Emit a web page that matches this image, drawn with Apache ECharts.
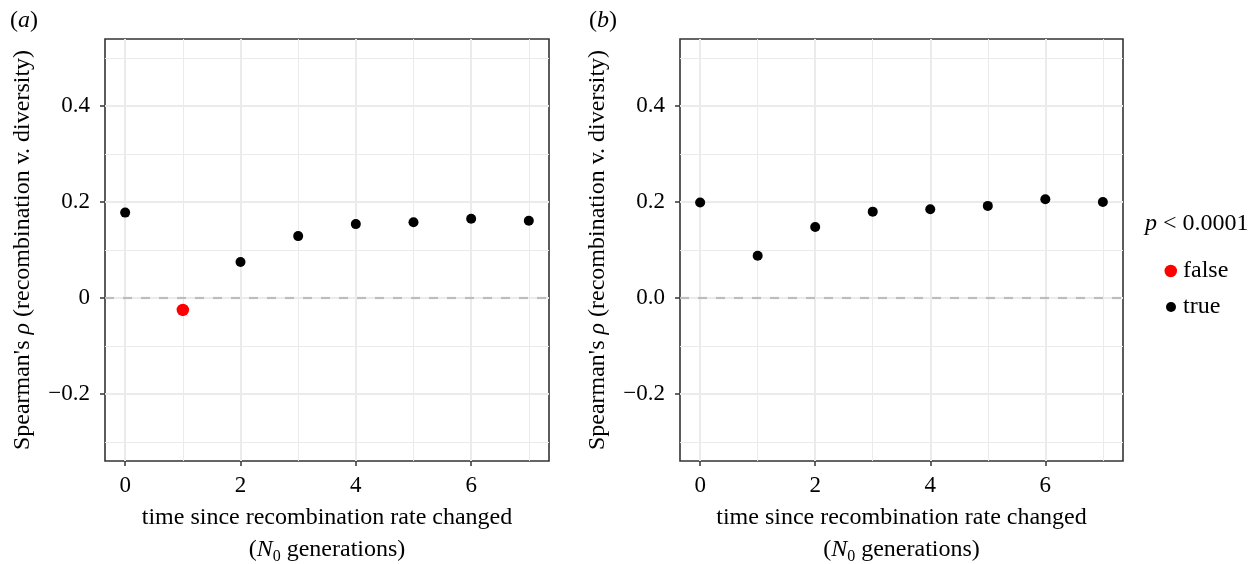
<!DOCTYPE html>
<html>
<head>
<meta charset="utf-8">
<script src="https://cdn.jsdelivr.net/npm/echarts@6/dist/echarts.min.js"></script>
<style>
html,body{margin:0;padding:0;background:#fff;}
#chart{width:1257px;height:564px;}
</style>
</head>
<body>
<div id="chart"></div>
<script>
// ---- data ----
const timeA = [0, 1, 2, 3, 4, 5, 6, 7];
const rhoA  = [0.178, -0.025, 0.075, 0.129, 0.154, 0.158, 0.165, 0.161];
const sigA  = [true, false, true, true, true, true, true, true];

const timeB = [0, 1, 2, 3, 4, 5, 6, 7];
const rhoB  = [0.199, 0.088, 0.148, 0.180, 0.185, 0.192, 0.206, 0.200];
const sigB  = [true, true, true, true, true, true, true, true];

const yTicks = [-0.2, 0, 0.2, 0.4];
const yMinor = [-0.3, -0.1, 0.1, 0.3, 0.5];
const xTicks = [0, 2, 4, 6];
const xMinor = [1, 3, 5, 7];
const yRange = [-0.34, 0.54];
const xRange = [-0.35, 7.35];
const panelLabels = ['a', 'b'];
const legendTitle = 'p';
const legendTitleRest = ' < 0.0001';

// ---- styles ----
const FONT = '"Liberation Serif", "DejaVu Serif", serif';
const INK = '#333333';
const GRID_C = '#ebebeb';
const TS = 24;   // title font size
const LS = 23;   // tick label font size
const rich = {
  i: {fontStyle: 'italic', fontFamily: FONT, fontSize: TS, color: '#000'},
  sub: {fontFamily: FONT, fontSize: 16, color: '#000', padding: [14, 0, 0, 0]}
};

function pts(t, r, s, flag) {
  const out = [];
  for (let k = 0; k < t.length; k++) if (s[k] === flag) out.push([t[k], r[k]]);
  return out;
}

function gridLines(idx) {
  const d = [];
  yMinor.forEach(v => d.push({yAxis: v, lineStyle: {color: GRID_C, width: 1, type: 'solid'}}));
  xMinor.forEach(v => d.push({xAxis: v, lineStyle: {color: GRID_C, width: 1, type: 'solid'}}));
  yTicks.forEach(v => d.push({yAxis: v, lineStyle: {color: GRID_C, width: 2, type: 'solid'}}));
  xTicks.forEach(v => d.push({xAxis: v, lineStyle: {color: GRID_C, width: 2, type: 'solid'}}));
  return {
    type: 'scatter', name: 'grid' + idx, xAxisIndex: idx, yAxisIndex: idx, data: [], z: 1,
    silent: true,
    markLine: {silent: true, symbol: 'none', label: {show: false}, animation: false, data: d}
  };
}
function zeroLine(idx) {
  return {
    type: 'scatter', name: 'zero' + idx, xAxisIndex: idx, yAxisIndex: idx, data: [], z: 2,
    silent: true,
    markLine: {silent: true, symbol: 'none', label: {show: false}, animation: false,
      data: [{yAxis: 0, lineStyle: {color: '#bdbdbd', width: 2.2, type: [9, 9]}}]}
  };
}

function fmtA(v) { if (Math.abs(v) < 1e-9) return '0'; return (v < 0 ? '\u2212' : '') + Math.abs(v).toFixed(1); }
function fmtB(v) { if (Math.abs(v) < 1e-9) return '0.0'; return (v < 0 ? '\u2212' : '') + Math.abs(v).toFixed(1); }

const grids = [
  {left: 105, top: 39, width: 444, height: 422},
  {left: 680, top: 39, width: 443, height: 422}
];

function xAxisDef(idx) {
  return {
    type: 'value', gridIndex: idx, min: xRange[0], max: xRange[1],
    axisLine: {show: false, onZero: false},
    splitLine: {show: false},
    axisTick: {show: true, customValues: xTicks, length: 5, lineStyle: {color: INK, width: 1.5}},
    axisLabel: {customValues: xTicks, margin: 13, fontFamily: FONT, fontSize: LS, color: '#000',
      formatter: v => String(v)},
    name: 'time since recombination rate changed\n({i|N}{sub|0} generations)',
    nameLocation: 'middle', nameGap: 35,
    nameTextStyle: {fontFamily: FONT, fontSize: TS, color: '#000', lineHeight: 32, rich: rich}
  };
}
function yAxisDef(idx, fmt, gap) {
  return {
    type: 'value', gridIndex: idx, min: yRange[0], max: yRange[1],
    axisLine: {show: false, onZero: false},
    splitLine: {show: false},
    axisTick: {show: true, customValues: yTicks, length: 5, lineStyle: {color: INK, width: 1.5}},
    axisLabel: {customValues: yTicks, margin: 15, fontFamily: FONT, fontSize: LS, color: '#000', formatter: fmt},
    name: "Spearman's {i|\u03c1} (recombination v. diversity)",
    nameLocation: 'middle', nameRotate: 90, nameGap: gap,
    nameTextStyle: {fontFamily: FONT, fontSize: TS, color: '#000', rich: rich}
  };
}

const legendText = {fontFamily: FONT, fontSize: TS, color: '#000'};

const option = {
  backgroundColor: '#ffffff',
  animation: false,
  grid: grids.map(g => Object.assign({show: true, borderColor: INK, borderWidth: 1.6, backgroundColor: '#fff',
    containLabel: false, outerBoundsMode: 'none'}, g)),
  xAxis: [xAxisDef(0), xAxisDef(1)],
  yAxis: [yAxisDef(0, fmtA, 70), yAxisDef(1, fmtB, 70)],
  legend: [
    {orient: 'vertical', left: 1159.5, top: 254, itemWidth: 12.5, itemHeight: 12.5, icon: 'circle',
      data: ['false'], textStyle: Object.assign({padding: [0, 0, 0, 1]}, legendText)},
    {orient: 'vertical', left: 1161, top: 290, itemWidth: 10, itemHeight: 10, icon: 'circle',
      data: ['true'], textStyle: Object.assign({padding: [0, 0, 0, 2]}, legendText)}
  ],
  graphic: [
    {type: 'text', left: 10, top: 9, style: {text: '({i|' + panelLabels[0] + '})', font: TS + 'px ' + FONT, fill: '#000',
      rich: {i: {fontStyle: 'italic', fontFamily: FONT, fontSize: TS, fill: '#000'}}}},
    {type: 'text', left: 589, top: 9, style: {text: '({i|' + panelLabels[1] + '})', font: TS + 'px ' + FONT, fill: '#000',
      rich: {i: {fontStyle: 'italic', fontFamily: FONT, fontSize: TS, fill: '#000'}}}},
    {type: 'text', left: 1145, top: 212, style: {text: '{i|' + legendTitle + '}' + legendTitleRest, font: TS + 'px ' + FONT, fill: '#000',
      rich: {i: {fontStyle: 'italic', fontFamily: FONT, fontSize: TS, fill: '#000'}}}}
  ],
  series: [
    gridLines(0), gridLines(1), zeroLine(0), zeroLine(1),
    {type: 'scatter', name: 'true', xAxisIndex: 0, yAxisIndex: 0, z: 5, symbolSize: 10,
      itemStyle: {color: '#000000', opacity: 1}, data: pts(timeA, rhoA, sigA, true)},
    {type: 'scatter', name: 'false', xAxisIndex: 0, yAxisIndex: 0, z: 5, symbolSize: 12.5,
      itemStyle: {color: '#ff0000', opacity: 1}, data: pts(timeA, rhoA, sigA, false)},
    {type: 'scatter', name: 'true', xAxisIndex: 1, yAxisIndex: 1, z: 5, symbolSize: 10,
      itemStyle: {color: '#000000', opacity: 1}, data: pts(timeB, rhoB, sigB, true)}
  ]
};

const chart = echarts.init(document.getElementById('chart'), null, {renderer: 'canvas'});
chart.setOption(option);
</script>
</body>
</html>
